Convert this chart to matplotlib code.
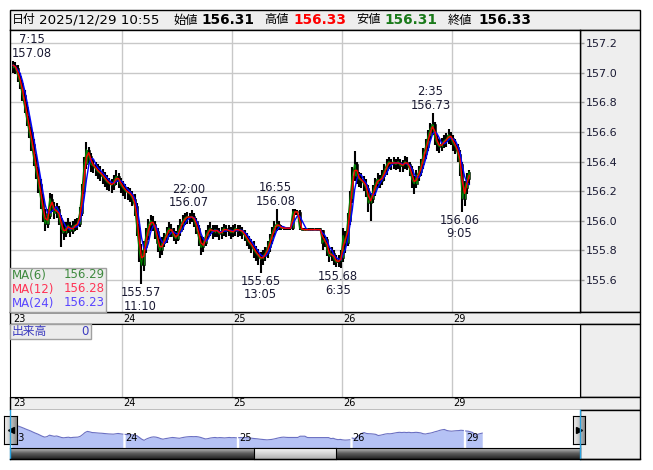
import matplotlib
matplotlib.use("Agg")
import matplotlib.pyplot as plt
import matplotlib.transforms as mtrans
from matplotlib.patches import Rectangle
import numpy as np
import pandas as pd

# ---------------- data (30-minute bars) ----------------
DAY_LABELS = ["23", "24", "25", "26", "29"]
BARS_PER_DAY = 48

CLOSE = [
    157.05, 157.03, 156.98, 156.93, 156.85, 156.77, 156.68, 156.60, 156.52, 156.42, 156.33, 156.25,
    156.15, 156.05, 155.98, 156.03, 156.15, 156.10, 156.05, 156.08, 156.02, 155.95, 155.92, 155.95,
    155.97, 155.93, 155.96, 155.97, 155.98, 156.05, 156.20, 156.38, 156.48, 156.44, 156.38, 156.37,
    156.35, 156.33, 156.32, 156.30, 156.28, 156.26, 156.25, 156.24, 156.27, 156.30, 156.27, 156.24,
    156.22, 156.20, 156.19, 156.18, 156.15, 156.10, 155.95, 155.80, 155.70, 155.82, 155.90, 155.97,
    156.00, 155.98, 155.93, 155.85, 155.80, 155.85, 155.88, 155.92, 155.95, 155.93, 155.90, 155.88,
    155.93, 155.97, 156.00, 156.02, 156.03, 156.02, 156.03, 156.00, 155.95, 155.88, 155.82, 155.85,
    155.90, 155.93, 155.95, 155.92, 155.94, 155.93, 155.91, 155.93, 155.95, 155.93, 155.94, 155.92,
    155.93, 155.95, 155.93, 155.94, 155.92, 155.90, 155.87, 155.85, 155.83, 155.80, 155.78, 155.76,
    155.74, 155.76, 155.78, 155.82, 155.87, 155.92, 155.96, 155.98, 155.96, 155.95, 155.95, 155.95,
    155.95, 155.95, 156.06, 156.06, 156.06, 155.95, 155.94, 155.94, 155.94, 155.94, 155.94, 155.94,
    155.94, 155.94, 155.94, 155.85, 155.88, 155.80, 155.76, 155.78, 155.74, 155.72, 155.73, 155.75,
    155.90, 155.85, 156.00, 156.15, 156.30, 156.38, 156.30, 156.28, 156.27, 156.25, 156.22, 156.12,
    156.15, 156.20, 156.25, 156.28, 156.27, 156.30, 156.34, 156.38, 156.40, 156.38, 156.40, 156.38,
    156.40, 156.37, 156.38, 156.40, 156.38, 156.35, 156.28, 156.25, 156.30, 156.33, 156.38, 156.45,
    156.50, 156.57, 156.62, 156.65, 156.56, 156.52, 156.50, 156.52, 156.54, 156.55, 156.58, 156.56,
    156.52, 156.50, 156.45, 156.38, 156.15, 156.22, 156.28, 156.33,
]
HIGH = [
    157.08, 157.07, 157.05, 157.00, 156.95, 156.88, 156.80, 156.71, 156.63, 156.55, 156.45, 156.36,
    156.28, 156.18, 156.08, 156.08, 156.19, 156.18, 156.13, 156.12, 156.10, 156.04, 155.99, 155.99,
    156.02, 155.99, 156.00, 156.01, 156.02, 156.09, 156.25, 156.43, 156.53, 156.50, 156.46, 156.42,
    156.40, 156.38, 156.37, 156.35, 156.33, 156.31, 156.29, 156.28, 156.31, 156.34, 156.32, 156.29,
    156.27, 156.25, 156.23, 156.22, 156.20, 156.18, 156.12, 155.98, 155.84, 155.86, 155.95, 156.01,
    156.04, 156.03, 156.00, 155.95, 155.88, 155.89, 155.92, 155.96, 155.99, 155.98, 155.95, 155.93,
    155.97, 156.01, 156.04, 156.05, 156.06, 156.05, 156.07, 156.05, 156.02, 155.97, 155.90, 155.89,
    155.94, 155.97, 155.99, 155.97, 155.97, 155.97, 155.95, 155.96, 155.98, 155.97, 155.97, 155.96,
    155.97, 155.98, 155.97, 155.97, 155.96, 155.94, 155.92, 155.90, 155.88, 155.86, 155.83, 155.81,
    155.79, 155.80, 155.82, 155.86, 155.91, 155.96, 156.00, 156.08, 156.00, 155.97, 155.96, 155.96,
    155.96, 155.96, 156.08, 156.08, 156.07, 156.07, 155.95, 155.95, 155.95, 155.95, 155.95, 155.95,
    155.95, 155.95, 155.95, 155.94, 155.90, 155.89, 155.82, 155.82, 155.80, 155.77, 155.77, 155.80,
    155.95, 155.93, 156.05, 156.20, 156.36, 156.47, 156.40, 156.33, 156.32, 156.30, 156.28, 156.24,
    156.19, 156.24, 156.29, 156.32, 156.31, 156.34, 156.38, 156.42, 156.43, 156.42, 156.43, 156.42,
    156.43, 156.42, 156.41, 156.44, 156.43, 156.40, 156.37, 156.30, 156.34, 156.37, 156.42, 156.49,
    156.55, 156.61, 156.66, 156.73, 156.67, 156.58, 156.55, 156.56, 156.58, 156.59, 156.62, 156.60,
    156.58, 156.55, 156.52, 156.48, 156.40, 156.27, 156.32, 156.34,
]
LOW = [
    157.00, 156.99, 156.94, 156.89, 156.81, 156.73, 156.64, 156.56, 156.47, 156.37, 156.28, 156.19,
    156.08, 155.99, 155.93, 155.95, 156.01, 156.06, 156.01, 156.02, 155.97, 155.82, 155.87, 155.89,
    155.92, 155.89, 155.91, 155.93, 155.94, 155.96, 156.03, 156.18, 156.35, 156.39, 156.33, 156.32,
    156.30, 156.28, 156.27, 156.25, 156.23, 156.21, 156.20, 156.19, 156.21, 156.24, 156.22, 156.19,
    156.17, 156.15, 156.14, 156.13, 156.10, 156.03, 155.90, 155.72, 155.57, 155.66, 155.78, 155.87,
    155.93, 155.93, 155.88, 155.79, 155.75, 155.77, 155.82, 155.85, 155.89, 155.89, 155.86, 155.84,
    155.86, 155.90, 155.94, 155.97, 155.98, 155.98, 155.99, 155.96, 155.91, 155.83, 155.77, 155.79,
    155.83, 155.88, 155.90, 155.88, 155.89, 155.89, 155.87, 155.88, 155.90, 155.89, 155.90, 155.88,
    155.89, 155.90, 155.89, 155.90, 155.88, 155.86, 155.83, 155.81, 155.78, 155.75, 155.73, 155.70,
    155.65, 155.70, 155.73, 155.75, 155.79, 155.84, 155.89, 155.93, 155.94, 155.94, 155.94, 155.94,
    155.94, 155.94, 155.94, 156.04, 156.04, 155.94, 155.94, 155.94, 155.94, 155.94, 155.94, 155.94,
    155.94, 155.94, 155.94, 155.80, 155.82, 155.76, 155.72, 155.73, 155.70, 155.69, 155.69, 155.68,
    155.72, 155.78, 155.83, 155.97, 156.12, 156.27, 156.25, 156.23, 156.22, 156.20, 156.16, 156.06,
    156.00, 156.12, 156.17, 156.22, 156.22, 156.24, 156.27, 156.31, 156.35, 156.34, 156.35, 156.34,
    156.35, 156.33, 156.33, 156.35, 156.34, 156.30, 156.22, 156.18, 156.22, 156.27, 156.30, 156.35,
    156.42, 156.47, 156.54, 156.58, 156.51, 156.47, 156.46, 156.47, 156.49, 156.50, 156.52, 156.51,
    156.47, 156.45, 156.40, 156.30, 156.06, 156.10, 156.18, 156.24,
]
FIRST_OPEN = 157.03

MA_NAMES = ["MA(6)", "MA(12)", "MA(24)"]
MA_PERIODS_5MIN = [6, 12, 24]
MA_LAST_VALUES = ["156.29", "156.28", "156.23"]

# extreme-point labels: bar index, time text, kind
ANN_BARS = [0, 56, 78, 108, 115, 143, 183, 196]
ANN_TIMES = ["7:15", "11:10", "22:00", "13:05", "16:55", "6:35", "2:35", "9:05"]
ANN_KIND = ["high", "low", "high", "low", "high", "low", "high", "low"]

HEADER_DATE = "2025/12/29 10:55"
HEADER_LABELS = ["始値", "高値", "安値", "終値"]
HEADER_VALUES = ["156.31", "156.33", "156.31", "156.33"]

VOLUME_LABEL = "出来高"
VOLUME_VALUE = "0"

YTICKS = [155.6, 155.8, 156.0, 156.2, 156.4, 156.6, 156.8, 157.0, 157.2]

# ---------------- styles / layout ----------------
W, H = 653, 470
FONT = ["DejaVu Sans", "Noto Sans CJK JP"]
plt.rcParams["font.family"] = FONT
GRID = "#c8c8c8"
PANEL = "#eeeeee"
TXT = "#1a1a33"

fig = plt.figure(figsize=(W / 100, H / 100), dpi=100)


def box(x0, y0, x1, y1):
    return [x0 / W, 1 - y1 / H, (x1 - x0) / W, (y1 - y0) / H]


def frect(x0, y0, x1, y1, fc, ec="black", lw=1.0, z=0):
    r = Rectangle((x0 / W, 1 - y1 / H), (x1 - x0) / W, (y1 - y0) / H,
                  transform=fig.transFigure, fc=fc, ec=ec, lw=lw, zorder=z)
    fig.add_artist(r)
    return r


def ftext(x, y, s, **kw):
    fig.text(x / W, 1 - y / H, s, **kw)


close = np.array(CLOSE)
high = np.array(HIGH)
low = np.array(LOW)
opn = np.concatenate([[FIRST_OPEN], close[:-1]])
n = len(close)
idx = np.arange(n)
xpos = idx // BARS_PER_DAY + (idx % BARS_PER_DAY + 0.5) / BARS_PER_DAY

# main x scale: day boundary d at pixel 12 + 110 d
MAIN_XLIM = ((10 - 12) / 110, (580 - 12) / 110)

# ---------------- header ----------------
frect(10, 10, 640, 30, PANEL)
ftext(12, 20, "日付", fontsize=8.6, va="center", color="black")
ftext(39, 20, HEADER_DATE, fontsize=9.6, va="center", color="black")
lab_x = [173, 264, 356, 448]
val_x = [201, 293, 384, 478]
val_c = ["black", "#ff0000", "#1a7a1a", "black"]
for lx, vx, lab, val, c in zip(lab_x, val_x, HEADER_LABELS, HEADER_VALUES, val_c):
    ftext(lx, 20, lab, fontsize=8.8, va="center", color="black")
    ftext(vx, 20, val, fontsize=9.8, fontweight="bold", va="center", color=c)

# ---------------- main price panel ----------------
ax = fig.add_axes(box(10, 30, 580, 312))
frect(580, 30, 640, 312, PANEL)
ax.set_xlim(*MAIN_XLIM)
ax.set_ylim(155.384, 157.288)
ax.set_yticks(YTICKS)
ax.set_yticklabels([f"{v:.1f}" for v in YTICKS])
ax.yaxis.tick_right()
ax.tick_params(axis="y", length=3, width=1, color="#999999", labelsize=8,
               pad=1, labelcolor=TXT)
ax.set_xticks([])
for y in YTICKS:
    ax.axhline(y, color=GRID, lw=1, zorder=0)
for d in range(1, len(DAY_LABELS)):
    ax.axvline(d, color=GRID, lw=1, zorder=0)
for s in ax.spines.values():
    s.set_color("black")
    s.set_linewidth(1)

bw = 0.95 / BARS_PER_DAY
ax.vlines(xpos, low, high, color="black", lw=1.5, zorder=2)
up = close >= opn
body_lo = np.minimum(opn, close)
body_h = np.maximum(np.abs(close - opn), 0.008)
ax.bar(xpos, body_h, bottom=body_lo, width=bw,
       color=np.where(up, "#0b7a0b", "black"), edgecolor="black", lw=0.4, zorder=3)

ma_colors = ["#008000", "#ff0000", "#0000ff"]
ma_lw = [0.9, 1.0, 1.0]
ma_z = [4, 6, 5]
s_close = pd.Series(close)
for per, col, lw_, z in zip(MA_PERIODS_5MIN, ma_colors, ma_lw, ma_z):
    win = max(1, per * 5 // 30)  # 5-minute periods converted to 30-minute bars
    ma = s_close.rolling(win, min_periods=1).mean()
    ax.plot(xpos, ma, color=col, lw=lw_, zorder=z)

ann_dx = [19, -1, -3, 0, -1, -3, -2, -3]  # px
for b, t, k, dx in zip(ANN_BARS, ANN_TIMES, ANN_KIND, ann_dx):
    if k == "high":
        val = high[b]
        s = f"{t}\n{val:.2f}"
        va, dy = "bottom", 1
    else:
        val = low[b]
        s = f"{val:.2f}\n{t}"
        va, dy = "top", -2
    ax.annotate(s, (xpos[b], val), xytext=(dx * 0.72, dy * 0.72),
                textcoords="offset points", ha="center", va=va,
                fontsize=8.3, color=TXT, linespacing=1.05, zorder=7,
                annotation_clip=False)

# MA legend box
frect(10, 268, 106, 312, "#ececec", ec="#a0a0a0", lw=1, z=5)
leg_c = ["#3f8a3f", "#ff3355", "#5a46ff"]
for k, (nm, v, c) in enumerate(zip(MA_NAMES, MA_LAST_VALUES, leg_c)):
    yy = 275 + 14 * k
    ftext(12, yy, nm, fontsize=8.5, va="center", color=c, zorder=6)
    ftext(105, yy, v, fontsize=8.5, va="center", ha="right", color=c, zorder=6)

# date strip 1
frect(10, 312, 640, 324, PANEL)
tr_main = mtrans.blended_transform_factory(ax.transData, fig.transFigure)
for d, lab in enumerate(DAY_LABELS):
    fig.text(d + 0.01, 1 - 318.5 / H, lab, transform=tr_main, fontsize=7,
             va="center", ha="left", color="black")

# ---------------- volume panel ----------------
axv = fig.add_axes(box(10, 324, 580, 397))
frect(580, 324, 640, 397, PANEL)
axv.set_xlim(*MAIN_XLIM)
axv.set_ylim(0, 1)
axv.set_xticks([])
axv.set_yticks([])
for d in range(1, len(DAY_LABELS)):
    axv.axvline(d, color=GRID, lw=1, zorder=0)
for s in axv.spines.values():
    s.set_color("black")
frect(10, 324, 91, 339, "#ececec", ec="#a0a0a0", lw=1, z=5)
ftext(12, 331.5, VOLUME_LABEL, fontsize=8.5, va="center", color="#3c3cc0", zorder=6)
ftext(89, 331.5, VOLUME_VALUE, fontsize=8.5, va="center", ha="right", color="#3c3cc0", zorder=6)

# date strip 2
frect(10, 397, 640, 410, PANEL)
for d, lab in enumerate(DAY_LABELS):
    fig.text(d + 0.01, 1 - 403.5 / H, lab, transform=tr_main, fontsize=7,
             va="center", ha="left", color="black")

# ---------------- navigator ----------------
axn = fig.add_axes(box(10, 410, 580, 448))
frect(580, 410, 640, 459, PANEL)
axn.set_xlim((10 - 10.5) / 113.5, (580 - 10.5) / 113.5)
axn.set_ylim(155.03, 158.35)
axn.set_xticks([])
axn.set_yticks([])
for s in axn.spines.values():
    s.set_visible(False)
day_of_bar = idx // BARS_PER_DAY
for d in range(len(DAY_LABELS)):
    m = day_of_bar == d
    axn.fill_between(xpos[m], close[m], 155.03, color="#b5c2f5", lw=0, zorder=1)
    axn.plot(xpos[m], close[m], color="#6b70c2", lw=0.8, zorder=2)
for d, lab in enumerate(DAY_LABELS):
    axn.text(d + 0.015, 155.45, lab, fontsize=7, va="bottom", ha="left", color="black", zorder=3)

# scrollbar
axs = fig.add_axes(box(10, 448, 580, 459))
grad = np.linspace(0, 1, 20).reshape(-1, 1)
axs.imshow(grad, aspect="auto", cmap=matplotlib.colors.LinearSegmentedColormap.from_list(
    "sb", ["#bdbdbd", "#5a5a5a", "#262626"]), extent=(0, 1, 0, 1))
axs.set_xlim(0, 1)
axs.set_ylim(0, 1)
axs.set_xticks([])
axs.set_yticks([])
for s in axs.spines.values():
    s.set_color("black")
axt = fig.add_axes(box(254, 448, 336, 459))
axt.imshow(grad, aspect="auto", cmap=matplotlib.colors.LinearSegmentedColormap.from_list(
    "th", ["#f6f6f6", "#d6d6d6", "#b0b0b0"]), extent=(0, 1, 0, 1))
axt.set_xticks([])
axt.set_yticks([])
for s in axt.spines.values():
    s.set_color("black")

# navigator buttons
hgrad = np.linspace(0, 1, 20).reshape(1, -1)
for (x0, x1, mk) in [(4, 17, "<"), (573, 585, ">")]:
    axb = fig.add_axes(box(x0, 416, x1, 444))
    axb.imshow(hgrad, aspect="auto", cmap=matplotlib.colors.LinearSegmentedColormap.from_list(
        "bt", ["#f2f2f2", "#c8c8c8", "#8c8c8c"]), extent=(0, 1, 0, 1))
    axb.plot([0.5], [0.5], marker=mk, color="black", ms=4)
    axb.set_xlim(0, 1)
    axb.set_ylim(0, 1)
    axb.set_xticks([])
    axb.set_yticks([])
    for s in axb.spines.values():
        s.set_color("black")

# selection markers and outer border
fig.add_artist(plt.Line2D([10 / W, 10 / W], [1 - 410 / H, 1 - 459 / H], color="#29a3e0",
                          lw=1, transform=fig.transFigure, zorder=1))
fig.add_artist(plt.Line2D([579.5 / W, 579.5 / W], [1 - 410 / H, 1 - 459 / H], color="#29a3e0",
                          lw=1, transform=fig.transFigure, zorder=1))
fig.add_artist(plt.Line2D([10 / W, 640 / W], [1 - 459 / H, 1 - 459 / H], color="black",
                          lw=1, transform=fig.transFigure, zorder=10))

fig.savefig("out.png", dpi=100)
